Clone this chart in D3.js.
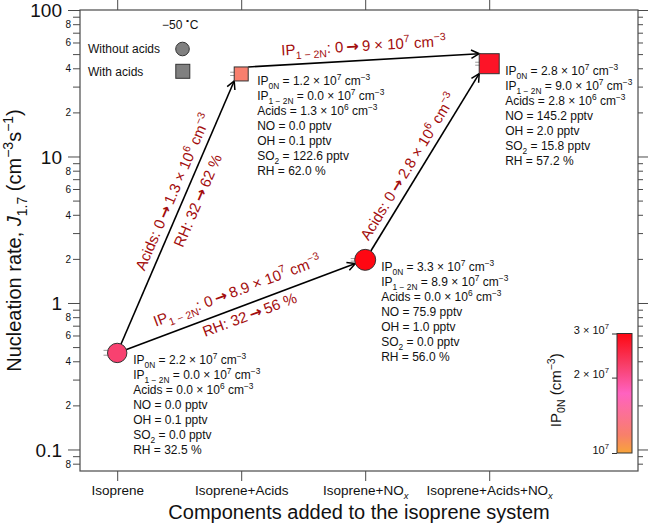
<!DOCTYPE html>
<html>
<head>
<meta charset="utf-8">
<script src="https://cdn.jsdelivr.net/npm/d3@7"></script>
<style>
  body { margin: 0; background: #fff; }
  svg { font-family: "Liberation Sans", Arial, Helvetica, sans-serif; }
</style>
</head>
<body>
<div id="chart"></div>
<script>
const width = 648;
const height = 526;

// values
const categories = ["Isoprene", "Isoprene+Acids", "Isoprene+NOx", "Isoprene+Acids+NOx"];
const withAcids = [false, true, false, true];
const jRate = [0.456, 36.6, 1.97, 43.0];
const jLow = [0.44, 35.7, 1.93, 42.0];
const jHigh = [0.475, 37.6, 2.01, 44.0];
const ip0n = [2.2e7, 1.2e7, 3.3e7, 2.8e7];
const ip12n = [0.0, 0.0, 8.9e7, 9.0e7];
const acids = [0.0, 1.3e6, 0.0, 2.8e6];
const no = [0.0, 0.0, 75.9, 145.2];
const oh = [0.1, 0.1, 1.0, 2.0];
const so2 = [0.0, 122.6, 0.0, 15.8];
const rh = [32.5, 62.0, 56.0, 57.2];
const yMajor = [0.1, 1, 10, 100];
const cbTicks = [1e7, 2e7, 3e7];

// marker half sizes (px)
const markerSize = [9.7, 7, 10.5, 10];
const red = "#a30d0d";
const axisCol = "#4a4a4a";

const margin = { left: 80, right: 10, top: 10, bottom: 55 };

const svg = d3.select("#chart").append("svg")
  .attr("width", width).attr("height", height);

const x = d3.scaleLinear().domain([0.7, 5.2]).range([margin.left, width - margin.right]);
const y = d3.scaleLog().domain([0.0713, 100]).range([height - margin.bottom, margin.top]);

const cPos = d3.scaleLog().domain([1e7, 3e7]).range([0, 1]).clamp(true);
const cMap = d3.scaleLinear()
  .domain([0, 0.15, 0.5, 0.75, 1])
  .range(["#f8a43a", "#f8806a", "#ff62c0", "#f73c64", "#ff0712"])
  .interpolate(d3.interpolateRgb);
const colorOf = v => cMap(cPos(v));

// text with sub/superscripts; "→" drawn bold from DejaVu
function rich(text, parts, size) {
  let shift = 0;
  parts.forEach(p => {
    if (typeof p === "string") p = { t: p };
    const target = p.sub ? 0.28 * size : p.sup ? -0.42 * size : 0;
    const ts = text.append("tspan")
      .attr("dy", target - shift)
      .attr("font-size", (p.sub || p.sup) ? size * 0.7 : size)
      .attr("font-style", p.it ? "italic" : null)
      .text(p.t);
    if (p.arrow) ts.attr("font-family", "DejaVu Sans").attr("font-weight", "bold");
    shift = target;
  });
  return text;
}
const AR = { t: "\u2009→\u2009", arrow: true };

// ---------- axes ----------
const x0 = margin.left, x1 = width - margin.right;
const y0 = margin.top, y1 = height - margin.bottom;

const yTicks = [];
yMajor.forEach(d => {
  for (let k = 1; k <= 9; k++) {
    const val = k * d;
    if (val >= y.domain()[0] && val <= 100) yTicks.push(val);
  }
});
[0.08, 0.09].forEach(v => { if (v >= y.domain()[0]) yTicks.push(v); });
const isMajor = v => yMajor.some(m => Math.abs(m - v) / m < 1e-9);
const firstDigit = v => Math.round(v / Math.pow(10, Math.floor(Math.log10(v) + 1e-9)));

const leftAx = svg.append("g").attr("transform", `translate(${x0},0)`)
  .call(d3.axisLeft(y).tickValues(yTicks).tickFormat(""));
leftAx.select(".domain").remove();
leftAx.selectAll(".tick").each(function (d) {
  const g = d3.select(this);
  const major = isMajor(d);
  g.select("line").attr("x2", major ? -12 : -7).attr("stroke", axisCol);
  const dig = firstDigit(d);
  if (major) {
    g.append("text").attr("x", -18).attr("dy", "0.35em").attr("text-anchor", "end")
      .attr("font-size", 19).attr("fill", "#111").text(d >= 1 ? d : "0.1");
  } else if (dig % 2 === 0) {
    g.append("text").attr("x", -9).attr("dy", "0.35em").attr("text-anchor", "end")
      .attr("font-size", 10).attr("fill", "#111").text(dig);
  }
});

const rightAx = svg.append("g").attr("transform", `translate(${x1},0)`)
  .call(d3.axisRight(y).tickValues(yTicks).tickFormat(""));
rightAx.select(".domain").remove();
rightAx.selectAll(".tick line").attr("x2", d => isMajor(d) ? 10 : 5).attr("stroke", axisCol);

const catPos = categories.map((c, i) => i + 1);
const topAx = svg.append("g").attr("transform", `translate(0,${y0})`)
  .call(d3.axisTop(x).tickValues(catPos).tickSize(10).tickFormat(""));
topAx.select(".domain").remove();
topAx.selectAll(".tick line").attr("stroke", axisCol);

const bottomAx = svg.append("g").attr("transform", `translate(0,${y1})`)
  .call(d3.axisBottom(x).tickValues(catPos).tickSize(10).tickFormat(""));
bottomAx.select(".domain").remove();
bottomAx.selectAll(".tick line").attr("stroke", axisCol);
bottomAx.selectAll(".tick").each(function (d, i) {
  const lab = categories[i];
  const parts = lab.endsWith("NOx") ? [lab.slice(0, -1), { t: "x", sub: true, it: true }] : [lab];
  rich(d3.select(this).append("text").attr("y", 24).attr("text-anchor", "middle")
    .attr("fill", "#111"), parts, 13.5);
});

svg.append("rect").attr("x", x0).attr("y", y0).attr("width", x1 - x0).attr("height", y1 - y0)
  .attr("fill", "none").attr("stroke", axisCol).attr("stroke-width", 1.2);

rich(svg.append("text").attr("transform", `translate(21,${(y0 + y1) / 2}) rotate(-90)`)
  .attr("text-anchor", "middle").attr("fill", "#111"),
  ["Nucleation rate, ", { t: "J", it: true }, { t: "1.7", sub: true }, " (cm", { t: "−3", sup: true },
    "s", { t: "−1", sup: true }, ")"], 20);

svg.append("text").attr("x", (x0 + x1) / 2).attr("y", 519).attr("text-anchor", "middle")
  .attr("font-size", 20).attr("fill", "#111").text("Components added to the isoprene system");

// ---------- arrows ----------
const defs = svg.append("defs");
defs.append("marker")
  .attr("id", "head").attr("viewBox", "-10 -6 12 12")
  .attr("refX", 0).attr("refY", 0)
  .attr("markerWidth", 12).attr("markerHeight", 12)
  .attr("markerUnits", "userSpaceOnUse").attr("orient", "auto")
  .append("path").attr("d", "M-8,-4.2L0,0L-8,4.2")
  .attr("fill", "none").attr("stroke", "#000").attr("stroke-width", 1.5);

const centre = i => [x(i + 1), y(jRate[i])];
function anchor(i, type, j) {
  const [cx, cy] = centre(i), h = markerSize[i];
  if (type === "c") return [cx, cy];
  if (type === "bl") return [cx - h, cy + h];
  if (type === "tl") return [cx - h, cy - h];
  if (type === "tr") return [cx + h, cy - h];
  const [ox, oy] = centre(j);
  const L = Math.hypot(ox - cx, oy - cy);
  return [cx + (ox - cx) / L * h, cy + (oy - cy) / L * h];
}
const arrows = [
  { from: 0, to: 1, a0: "c", a1: "bl" },
  { from: 0, to: 2, a0: "c", a1: "edge" },
  { from: 2, to: 3, a0: "edge", a1: "bl" },
  { from: 1, to: 3, a0: "tr", a1: "tl" }
];
const segs = arrows.map(a => [anchor(a.from, a.a0, a.to), anchor(a.to, a.a1, a.from)]);

// error bars
const eb = svg.append("g").attr("stroke", "#9a9a9a").attr("stroke-width", 1);
jRate.forEach((v, i) => {
  const cx = x(i + 1), w = markerSize[i] + 4;
  eb.append("line").attr("x1", cx).attr("x2", cx).attr("y1", y(jLow[i])).attr("y2", y(jHigh[i]));
  [jLow[i], jHigh[i]].forEach(e => eb.append("line")
    .attr("x1", cx - w).attr("x2", cx + w - 6).attr("y1", y(e)).attr("y2", y(e)));
});

svg.append("g").selectAll("line").data(segs).join("line")
  .attr("x1", d => d[0][0]).attr("y1", d => d[0][1])
  .attr("x2", d => d[1][0]).attr("y2", d => d[1][1])
  .attr("stroke", "#000").attr("stroke-width", 1.6)
  .attr("marker-end", "url(#head)");

// ---------- markers ----------
jRate.forEach((v, i) => {
  const [cx, cy] = centre(i), h = markerSize[i];
  if (withAcids[i]) {
    svg.append("rect").attr("x", cx - h).attr("y", cy - h).attr("width", 2 * h).attr("height", 2 * h)
      .attr("fill", colorOf(ip0n[i])).attr("stroke", "#333").attr("stroke-width", 1);
  } else {
    svg.append("circle").attr("cx", cx).attr("cy", cy).attr("r", h)
      .attr("fill", colorOf(ip0n[i])).attr("stroke", "#333").attr("stroke-width", 1);
  }
});

// ---------- arrow labels ----------
const notes = [
  { seg: 0, t: 0.574, d: -7, parts: ["Acids: 0", AR, "1.3 × 10", { t: "6", sup: true }, " cm", { t: "−3", sup: true }] },
  { seg: 0, t: 0.58, d: 19, parts: ["RH: 32", AR, "62 %"] },
  { seg: 1, t: 0.527, d: -11, parts: ["IP", { t: "1 − 2N", sub: true }, ": 0", AR, "8.9 × 10", { t: "7", sup: true }, " cm", { t: "−3", sup: true }] },
  { seg: 1, t: 0.54, d: 16, parts: ["RH: 32", AR, "56 %"] },
  { seg: 2, t: 0.44, d: -7, parts: ["Acids: 0", AR, "2.8 × 10", { t: "6", sup: true }, " cm", { t: "−3", sup: true }] },
  { seg: 3, t: 0.503, d: -9.5, parts: ["IP", { t: "1 − 2N", sub: true }, ": 0", AR, "9 × 10", { t: "7", sup: true }, " cm", { t: "−3", sup: true }] }
];
notes.forEach(n => {
  const [[ax, ay], [bx, by]] = segs[n.seg];
  const px = ax + (bx - ax) * n.t, py = ay + (by - ay) * n.t;
  const ang = Math.atan2(by - ay, bx - ax) * 180 / Math.PI;
  rich(svg.append("text").attr("transform", `translate(${px},${py}) rotate(${ang})`)
    .attr("y", n.d).attr("text-anchor", "middle").attr("fill", red), n.parts, 15);
});

// ---------- info blocks ----------
const f1 = v => v.toFixed(1);
jRate.forEach((v, i) => {
  const [cx, cy] = centre(i);
  const lines = [
    ["IP", { t: "0N", sub: true }, ` = ${f1(ip0n[i] / 1e7)} × 10`, { t: "7", sup: true }, " cm", { t: "−3", sup: true }],
    ["IP", { t: "1 − 2N", sub: true }, ` = ${f1(ip12n[i] / 1e7)} × 10`, { t: "7", sup: true }, " cm", { t: "−3", sup: true }],
    [`Acids = ${f1(acids[i] / 1e6)} × 10`, { t: "6", sup: true }, " cm", { t: "−3", sup: true }],
    [`NO = ${f1(no[i])} pptv`],
    [`OH = ${f1(oh[i])} pptv`],
    ["SO", { t: "2", sub: true }, ` = ${f1(so2[i])} pptv`],
    [`RH = ${f1(rh[i])} %`]
  ];
  lines.forEach((parts, k) => {
    rich(svg.append("text").attr("x", cx + 16).attr("y", cy + 11.5 + k * 15).attr("fill", "#111"), parts, 12);
  });
});

// ---------- legend ----------
const lg = svg.append("g");
rich(lg.append("text").attr("x", 162).attr("y", 29).attr("fill", "#111"),
  ["−50", { t: " ∘", sup: true }, "C"], 12);
lg.append("text").attr("x", 88).attr("y", 53).attr("font-size", 12).attr("fill", "#111").text("Without acids");
lg.append("text").attr("x", 88).attr("y", 76).attr("font-size", 12).attr("fill", "#111").text("With acids");
lg.append("circle").attr("cx", 182.5).attr("cy", 49).attr("r", 6.8)
  .attr("fill", "#808080").attr("stroke", "#333");
lg.append("rect").attr("x", 175.8).attr("y", 64.3).attr("width", 14).attr("height", 14)
  .attr("fill", "#808080").attr("stroke", "#333");

// ---------- colour bar ----------
const cbX = 617, cbW = 15, cbTop = 333.5, cbBot = 453;
const cbY = d3.scaleLog().domain([1e7, 3e7]).range([cbBot, cbTop]);
const grad = defs.append("linearGradient").attr("id", "cb")
  .attr("x1", 0).attr("x2", 0).attr("y1", 1).attr("y2", 0);
d3.range(0, 1.0001, 0.05).forEach(t => grad.append("stop").attr("offset", t).attr("stop-color", cMap(t)));
svg.append("rect").attr("x", cbX).attr("y", cbTop).attr("width", cbW).attr("height", cbBot - cbTop)
  .attr("fill", "url(#cb)").attr("stroke", "#333").attr("stroke-width", 1);
const cbAxis = svg.append("g").attr("transform", `translate(${cbX},0)`)
  .call(d3.axisLeft(cbY).tickValues(cbTicks).tickSize(5).tickFormat(""));
cbAxis.select(".domain").remove();
cbAxis.selectAll(".tick line").attr("stroke", "#333");
cbAxis.selectAll(".tick").each(function (d) {
  const m = Math.round(d / 1e7);
  const parts = m === 1 ? ["10", { t: "7", sup: true }] : [`${m} × 10`, { t: "7", sup: true }];
  rich(d3.select(this).append("text").attr("x", -8).attr("dy", "0.35em")
    .attr("text-anchor", "end").attr("fill", "#111"), parts, 11);
});
rich(svg.append("text").attr("transform", `translate(561,${(cbTop + cbBot) / 2 - 3}) rotate(-90)`)
  .attr("text-anchor", "middle").attr("fill", "#111"),
  ["IP", { t: "0N", sub: true }, " (cm", { t: "−3", sup: true }, ")"], 15);
</script>
</body>
</html>
